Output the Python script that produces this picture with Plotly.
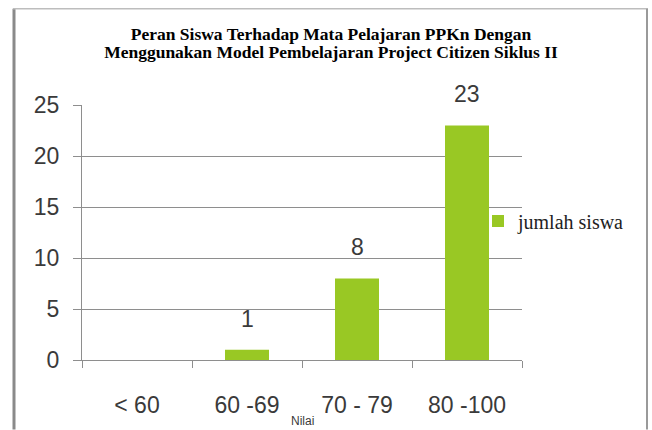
import plotly.graph_objects as go

categories = ["< 60", "60 -69", "70 - 79", "80 -100"]
jumlah_siswa = [0, 1, 8, 23]
series_name = "jumlah siswa"
title_lines = ["Peran Siswa Terhadap Mata Pelajaran PPKn Dengan",
               "Menggunakan Model Pembelajaran Project Citizen Siklus II"]
x_title = "Nilai"
y_ticks = [0, 5, 10, 15, 20, 25]

W, H = 652, 430
L, R, T, B = 82, 522, 105, 362

bar_color = "#99C824"
grid_color = "#8E8E8E"
text_color = "#3A3A3A"

fig = go.Figure()
fig.add_trace(go.Bar(
    x=categories, y=jumlah_siswa, name=series_name,
    marker=dict(color=bar_color, line=dict(width=0)),
    width=0.4, showlegend=True,
))

for c, v in zip(categories, jumlah_siswa):
    if v:
        fig.add_annotation(x=c, y=v, text=str(v), showarrow=False,
                           yanchor="bottom", yshift=16,
                           font=dict(family="Liberation Sans, Arial", size=23, color=text_color))

def px(xp):
    return (xp - L) / (R - L)

def py(yp):
    return (B - yp) / (B - T)

fig.add_annotation(xref="paper", yref="paper", x=0.5, y=py(423),
                   text=x_title, showarrow=False, yanchor="middle",
                   font=dict(family="Liberation Sans, Arial", size=12, color=text_color))

shapes = [
    dict(type="line", xref="paper", yref="paper", x0=px(14), x1=px(14), y0=py(8), y1=py(432),
         line=dict(color="#8A8A8A", width=3)),
    dict(type="line", xref="paper", yref="paper", x0=px(13), x1=px(648), y0=py(8), y1=py(8),
         line=dict(color="#BDBDBD", width=1.5)),
    dict(type="line", xref="paper", yref="paper", x0=px(647), x1=px(647), y0=py(8), y1=py(432),
         line=dict(color="#9A9A9A", width=2)),
]

title_text = "<br>".join(
    '<span style="font-size:17.5px"><b>%s</b></span>' % t for t in title_lines)

fig.update_layout(
    width=W, height=H,
    margin=dict(l=L, r=W - R, t=T, b=H - B, pad=0),
    paper_bgcolor="white", plot_bgcolor="white",
    title=dict(text=title_text, x=(331 - L) / (R - L), xref="paper", xanchor="center",
               y=1 - 40 / H, yanchor="middle",
               font=dict(family="Liberation Serif, Times New Roman", size=14, color="#000000")),
    xaxis=dict(
        showline=True, linecolor=grid_color, linewidth=1,
        ticks="outside", tickson="boundaries", ticklen=7, tickcolor=grid_color,
        tickfont=dict(family="Liberation Sans, Arial", size=23, color=text_color),
        ticklabelstandoff=24, showgrid=False,
    ),
    yaxis=dict(
        range=[0, 25], tickvals=y_ticks,
        showline=True, linecolor=grid_color, linewidth=1,
        ticks="outside", ticklen=8, tickcolor=grid_color,
        showgrid=True, gridcolor=grid_color, gridwidth=1,
        zeroline=False,
        tickfont=dict(family="Liberation Sans, Arial", size=23, color=text_color),
        ticklabelstandoff=9,
    ),
    legend=dict(x=px(478), xanchor="left", y=py(222), yanchor="middle",
                bgcolor="rgba(0,0,0,0)",
                font=dict(family="Liberation Serif, Times New Roman", size=20, color="#222222")),
    shapes=shapes,
    bargap=0.6,
)

fig.write_html("out.html", config={"displayModeBar": False},
               post_script="document.body.style.margin='0';")
